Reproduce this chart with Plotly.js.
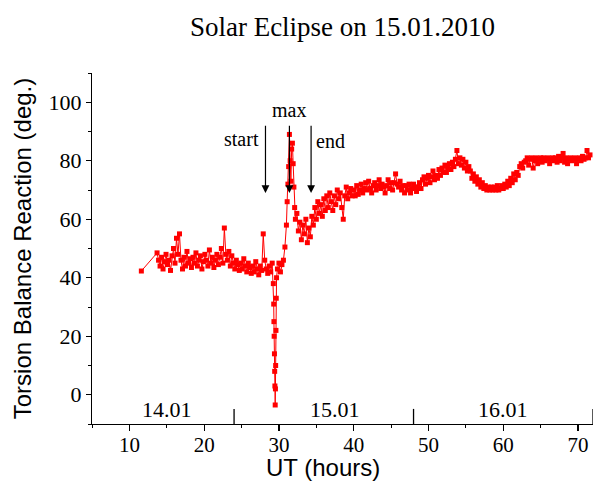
<!DOCTYPE html>
<html>
<head>
<meta charset="utf-8">
<script src="https://cdn.plot.ly/plotly-3.0.1.min.js"></script>
<style>html,body{margin:0;padding:0;background:#fff;}#chart{width:593px;height:486px;}</style>
</head>
<body>
<div id="chart"></div>
<script>
// Time in hours (UT) since 14.01.2010 00:00
var hours = [11.6,
13.7,13.9,14.1,14.3,14.5,14.7,14.9,15.1,15.3,15.5,15.7,15.9,16.1,16.3,16.5,16.7,16.9,17.1,17.3,17.5,17.7,17.9,
18.1,18.3,18.5,18.7,18.9,19.1,19.3,19.5,19.7,19.9,20.1,20.3,20.5,20.7,20.9,21.1,21.3,21.5,21.7,21.9,
22.1,22.3,22.5,22.7,22.9,23.1,23.3,23.5,23.7,23.9,24.1,24.3,24.5,24.7,24.9,25.1,25.3,25.5,25.7,25.9,
26.1,26.3,26.5,26.7,26.9,27.1,27.3,27.5,27.7,27.9,28.1,28.3,28.5,28.7,28.9,29.1,
29.25,29.3,29.33,29.36,29.4,29.43,29.46,29.5,29.53,29.56,29.6,29.64,29.68,29.8,
30.0,30.2,30.4,30.6,30.8,31.0,31.1,31.2,31.3,31.4,31.5,31.6,31.7,31.8,31.9,32.0,32.1,32.2,
32.4,32.6,32.8,33.0,33.2,33.4,33.6,33.8,34.0,34.2,34.4,34.6,34.8,35.0,35.2,35.4,35.6,35.8,
36.0,36.2,36.4,36.6,36.8,37.0,37.2,37.4,37.6,37.8,38.0,38.2,38.4,38.6,38.8,39.0,39.2,39.4,39.6,39.8,
40.0,40.2,40.4,40.6,40.8,41.0,41.2,41.4,41.6,41.8,42.0,42.2,42.4,42.6,42.8,43.0,43.2,43.4,43.6,43.8,
44.0,44.2,44.4,44.6,44.8,45.0,45.2,45.4,45.6,45.8,46.0,46.2,46.4,46.6,46.8,47.0,47.2,47.4,47.6,47.8,
48.0,48.2,48.4,48.6,48.8,49.0,49.2,49.4,49.6,49.8,50.0,50.2,50.4,50.6,50.8,51.0,51.2,51.4,51.6,51.8,
52.0,52.2,52.4,52.6,52.8,53.0,53.2,53.4,53.6,53.8,54.0,54.2,54.4,54.6,54.8,55.0,55.2,55.4,55.6,55.8,
56.0,56.2,56.4,56.6,56.8,57.0,57.2,57.4,57.6,57.8,58.0,58.2,58.4,58.6,58.8,59.0,59.2,59.4,59.6,59.8,
60.0,60.2,60.4,60.6,60.8,61.0,61.2,61.4,61.6,61.8,62.0,62.2,62.4,62.6,62.8,63.0,63.2,63.4,63.6,63.8,
64.0,64.2,64.4,64.6,64.8,65.0,65.2,65.4,65.6,65.8,66.0,66.2,66.4,66.6,66.8,67.0,67.2,67.4,67.6,67.8,
68.0,68.2,68.4,68.6,68.8,69.0,69.2,69.4,69.6,69.8,70.0,70.2,70.4,70.6,70.8,71.0,71.2,71.4,71.6];

// Torsion balance reaction (degrees)
var reaction = [42.3,
48.5,46,44,47,43,45.5,48,44.5,46,42.5,47.5,50,45,53.5,48,55,46,43,47,44,49,45,
46.5,43.5,47,45,48.5,44,46,47.5,43,45.5,48,46,44,49.5,45,47,43.5,46,48,44.5,
47,50,45,57,48,46,49,44,47.5,45,43,46,44.5,42.5,45,43,46.5,44,42,45,
43.5,41.5,44,42,45.5,43,41,44,42.5,55,46,43,41.5,44,42,45,
38,31,25,20,14,8,3,-3.5,2,10,22,33,40,43,
45,42,44.5,46,50.5,58,66,72,78,89,80,73,84,86,79,71,64,60,
62,56,59,53,58,55,60,52,57,54,61,58,64,60,66,62,65,61,
67,63,68,64,69,66,63,68,65,70,67,69,64,60,68,71,67,69,70.5,68,
70,68,71.5,68.5,70,72,69,70.5,72.5,70,73,70.5,69,71.5,72.5,70,71.5,73.5,70.5,72,
71,69,71.5,73.5,70.5,72.5,70,72.5,75.5,72,71,73,70,71.5,69,71.5,70,72,69,70.5,
72,71,69.5,71,72.5,70.5,73.5,74.5,72,74,75,72.5,74.5,76.5,73.5,75,74,77,75,77.5,
76,78.5,76,77.5,79,77,79.5,78,80.5,83.5,79,81,78.5,80.5,77.5,79.5,76.5,78,76.5,74,
75.5,73,74.5,72,73.5,71,72.5,70.5,71.5,70,71,70,71,70,71,70,71.5,70,70.5,71.5,
70.5,72,71,73,71.5,74,72.5,75.5,73.5,76,75,78,79,77.5,79.5,80,81,78.5,80.5,81,
77.5,80,81,79,80.5,81,79.5,81,80,80.5,81,79,80.5,81,80,81,79.5,81.5,80,81,
82.5,79.5,81,79,80.5,81,80,80.5,81,79,80.5,81,80,81.5,80.5,81,83.5,81,82];

var xTickVals = [10,20,30,40,50,60,70];
var yTickVals = [0,20,40,60,80,100];
var dayLabels = ['14.01','15.01','16.01'];
var dayLabelPos = [15,37.5,60];
var dayBounds = [24,48,72];
var eventNames = ['start','max','end'];
var eventTimes = [28.2,31.4,34.3];

var serif = 'Liberation Serif';
var sans = 'Liberation Sans';

var trace = {
  x: hours, y: reaction, type: 'scatter', mode: 'lines+markers',
  line: {color: '#ff0000', width: 1},
  marker: {color: '#ff0000', symbol: 'square', size: 5},
  hoverinfo: 'x+y'
};

var shapes = [];
dayBounds.forEach(function(d){
  shapes.push({type:'line', xref:'x', yref:'paper', x0:d, x1:d, y0:0, y1:0.043,
    line:{color:'#000', width:1.3}});
});

var annotations = [];
dayLabels.forEach(function(t,i){
  annotations.push({xref:'x', yref:'paper', x:dayLabelPos[i], y:0.04, text:t,
    showarrow:false, xanchor:'center', yanchor:'middle', font:{family:serif, size:22, color:'#000'}});
});
// event arrows
eventTimes.forEach(function(t,i){
  annotations.push({xref:'x', yref:'y', x:t, y:69, ax:t, ay:92.5, axref:'x', ayref:'y',
    text:'', showarrow:true, arrowhead:2, arrowsize:1.3, arrowwidth:1.2, arrowcolor:'#000'});
});
annotations.push({xref:'x', yref:'y', x:eventTimes[0], y:87.5, text:eventNames[0], showarrow:false,
  xanchor:'right', yanchor:'middle', xshift:-4, font:{family:serif, size:20, color:'#000'}});
annotations.push({xref:'x', yref:'y', x:eventTimes[1], y:97.5, text:eventNames[1], showarrow:false,
  xanchor:'center', yanchor:'middle', font:{family:serif, size:20, color:'#000'}});
annotations.push({xref:'x', yref:'y', x:eventTimes[2], y:86.8, text:eventNames[2], showarrow:false,
  xanchor:'left', yanchor:'middle', xshift:3, font:{family:serif, size:20, color:'#000'}});
// x title
annotations.push({xref:'paper', yref:'paper', x:0.462, y:-0.125, text:'UT (hours)', showarrow:false,
  xanchor:'center', yanchor:'middle', font:{family:sans, size:24, color:'#000'}});

var layout = {
  width: 593, height: 486,
  margin: {l: 92, r: 0, t: 73, b: 62},
  paper_bgcolor: '#fff', plot_bgcolor: '#fff',
  font: {family: serif, color: '#000'},
  showlegend: false,
  title: {text: 'Solar Eclipse on 15.01.2010', x: 0.5, xref: 'paper', y: 0.945, yref: 'container',
    xanchor:'center', yanchor:'middle', font: {family: serif, size: 27, color: '#000'}},
  xaxis: {
    range: [5, 72], tickvals: xTickVals, ticktext: xTickVals.map(String),
    showline: true, linecolor: '#000', linewidth: 1.2, showgrid: false, zeroline: false,
    ticks: 'outside', ticklen: 6, tickwidth: 1.2, tickcolor: '#000',
    minor: {dtick: 5, tick0: 0, ticks: 'outside', ticklen: 3, tickwidth: 1, tickcolor: '#000'},
    ticklabelstandoff: -4,
    tickfont: {family: serif, size: 21, color: '#000'}
  },
  yaxis: {
    range: [-10, 110], tickvals: yTickVals, ticktext: yTickVals.map(String),
    showline: true, linecolor: '#000', linewidth: 1.2, showgrid: false, zeroline: false,
    ticks: 'outside', ticklen: 5, tickwidth: 1.2, tickcolor: '#000',
    minor: {dtick: 10, tick0: 0, ticks: 'outside', ticklen: 3, tickwidth: 1, tickcolor: '#000'},
    tickfont: {family: serif, size: 22, color: '#000'},
    title: {text: 'Torsion Balance Reaction (deg.)', font: {family: sans, size: 24, color: '#000'}, standoff: 10}
  },
  shapes: shapes,
  annotations: annotations
};

Plotly.newPlot('chart', [trace], layout, {displayModeBar: false, staticPlot: true});
</script>
</body>
</html>
